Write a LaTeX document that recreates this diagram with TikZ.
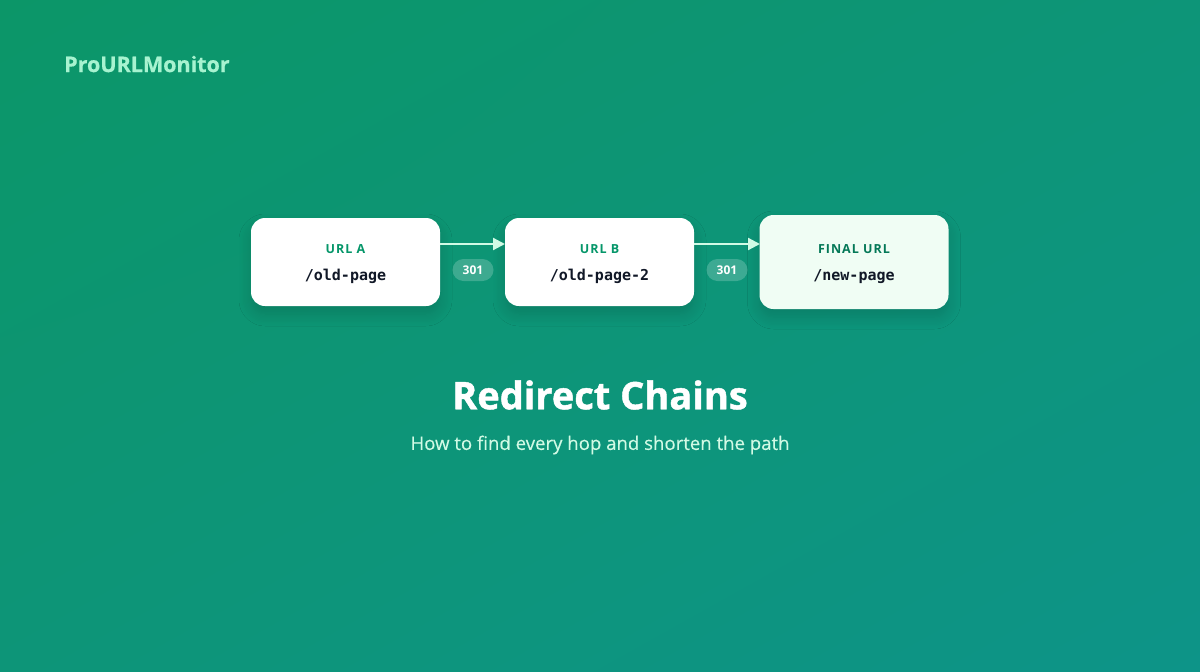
\documentclass[tikz,border=0pt]{standalone}
\usepackage{fontspec}
\setmainfont{Open Sans}
\newfontfamily\monof{DejaVu Sans Mono}
\usetikzlibrary{shadings,shadows.blur,arrows.meta}
\definecolor{bgA}{RGB}{12,150,104}
\definecolor{bgB}{RGB}{13,149,120}
\definecolor{bgC}{RGB}{13,148,136}
\definecolor{lblgreen}{RGB}{5,150,105}
\definecolor{lbldark}{RGB}{4,120,87}
\definecolor{pathtxt}{RGB}{17,24,39}
\definecolor{mint}{RGB}{209,250,229}
\definecolor{mintbrand}{RGB}{167,243,208}
\definecolor{finalfill}{RGB}{240,253,244}
\begin{document}
\begin{tikzpicture}[x=1pt,y=-1pt,
  card/.style={draw=none,fill=white,rounded corners=14pt,minimum width=189pt,minimum height=88pt,inner sep=0pt,
    blur shadow={shadow blur steps=10,shadow xshift=0pt,shadow yshift=-8pt,shadow opacity=15,shadow blur radius=12pt}},
  lbl/.style={font=\fontsize{12.5}{14}\selectfont\bfseries\addfontfeature{LetterSpace=8},text=lblgreen},
  pth/.style={font=\monof\bfseries\fontsize{15}{17}\selectfont,text=pathtxt},
  conn/.style={draw=mint,line width=2.2pt,-{Triangle[length=12pt,width=12pt]}},
  badge/.style={fill=white,fill opacity=0.2,text opacity=1,rounded corners=11pt,minimum width=41pt,minimum height=22pt,inner sep=0pt,text=white,font=\fontsize{12}{14}\selectfont\bfseries}
]
\useasboundingbox (0,0) rectangle (1200,672);
\shade[upper left=bgA,lower right=bgC,upper right=bgB,lower left=bgB] (0,0) rectangle (1200,672);
\node[anchor=west,inner sep=0pt,text=mintbrand,font=\fontsize{21.5}{24}\selectfont\bfseries\addfontfeature{FakeBold=0.6}] (brand) at (64,64) {ProURLMonitor};
\node[card] (a) at (345.5,262) {};
\node[card] (b) at (599.5,262) {};
\node[card,fill=finalfill,minimum width=189pt,minimum height=94pt] (c) at (854,262) {};
\node[lbl] (ta) at (345.5,249) {URL A};
\node[pth] (pa) at (345.5,276.5) {/old-page};
\node[lbl] (tb) at (599.5,249) {URL B};
\node[pth] (pb) at (599.5,276.5) {/old-page-2};
\node[lbl,text=lbldark] (tc) at (854,249) {FINAL URL};
\node[pth] (pc) at (854,276.5) {/new-page};
\coordinate (a1) at (440,244);
\coordinate (b0) at (505,244);
\coordinate (b1) at (694,244);
\coordinate (c0) at (760,244);
\draw[conn] (a1) -- (b0);
\draw[conn] (b1) -- (c0);
\node[badge] (s1) at (473,270) {301};
\node[badge] (s2) at (727,270) {301};
\node[text=white,font=\fontsize{38}{44}\selectfont\bfseries\addfontfeature{FakeBold=1.2}] (title) at (600,395) {Redirect Chains};
\node[text=mint,font=\fontsize{18.6}{22}\selectfont\addfontfeature{FakeBold=0.3}] (sub) at (600,445) {How to find every hop and shorten the path};
\end{tikzpicture}
\end{document}
